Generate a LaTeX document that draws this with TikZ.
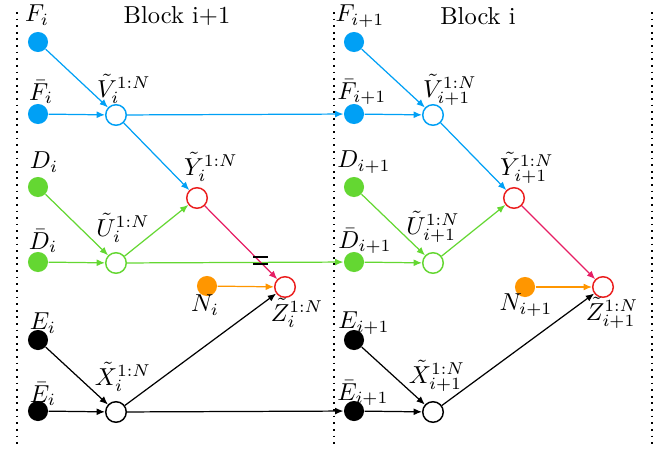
\documentclass[tikz,border=0pt]{standalone}
\usetikzlibrary{arrows.meta}
\definecolor{cF}{RGB}{0,160,245}
\definecolor{cD}{RGB}{100,215,50}
\definecolor{cR}{RGB}{235,30,30}
\definecolor{cM}{RGB}{230,30,100}
\definecolor{cN}{RGB}{255,150,0}
\begin{document}
\begin{tikzpicture}[x=0.408pt,y=-0.408pt,
  src/.style={circle,minimum size=8.2pt,inner sep=0pt},
  hid/.style={circle,draw,fill=white,minimum size=8.4pt,inner sep=0pt,line width=0.6pt},
  arr/.style={-{Latex[length=3.4pt,width=2.8pt]},line width=0.5pt},
  lab/.style={inner sep=0pt},
  sep/.style={dotted,line width=0.7pt}]
\useasboundingbox (0,0) rectangle (662,449);
% separators
\draw[sep] (17,12) -- (17,445);
\draw[sep] (334,12) -- (334,445);
\draw[sep] (652,12) -- (652,445);
\node[lab] (B1) at (177,16) {Block i+1};
\node[lab] (B2) at (478,16) {Block i};
% left block nodes
\node[src,fill=cF] (F1) at (38,42) {};
\node[src,fill=cF] (Fb1) at (38,114) {};
\node[hid,draw=cF] (V1) at (116,115) {};
\node[src,fill=cD] (D1) at (38,187) {};
\node[src,fill=cD] (Db1) at (38,262) {};
\node[hid,draw=cD] (U1) at (116,263) {};
\node[hid,draw=cR] (Y1) at (197,198) {};
\node[src,fill=cN] (N1) at (207,286) {};
\node[hid,draw=cR] (Z1) at (285,287) {};
\node[src,fill=black] (E1) at (38,340) {};
\node[src,fill=black] (Eb1) at (38,411) {};
\node[hid,draw=black] (X1) at (116,412) {};
% right block nodes
\node[src,fill=cF] (F2) at (354,42) {};
\node[src,fill=cF] (Fb2) at (354,114) {};
\node[hid,draw=cF] (V2) at (433,115) {};
\node[src,fill=cD] (D2) at (354,187) {};
\node[src,fill=cD] (Db2) at (354,262) {};
\node[hid,draw=cD] (U2) at (433,263) {};
\node[hid,draw=cR] (Y2) at (514,198) {};
\node[src,fill=cN] (N2) at (525,287) {};
\node[hid,draw=cR] (Z2) at (603,287) {};
\node[src,fill=black] (E2) at (354,340) {};
\node[src,fill=black] (Eb2) at (354,411) {};
\node[hid,draw=black] (X2) at (433,412) {};
% labels left
\node[lab] (lF1) at (37,15) {$F_i$};
\node[lab] (lFb1) at (41,92) {$\bar{F}_i$};
\node[lab] (lV1) at (124,89) {$\tilde{V}_i^{1:N}$};
\node[lab] (lD1) at (44,162) {$D_i$};
\node[lab] (lDb1) at (43,241) {$\bar{D}_i$};
\node[lab] (lU1) at (123,228) {$\tilde{U}_i^{1:N}$};
\node[lab] (lY1) at (211,167) {$\tilde{Y}_i^{1:N}$};
\node[lab] (lN1) at (205,305) {$N_i$};
\node[lab] (lZ1) at (297,313) {$\tilde{Z}_i^{1:N}$};
\node[lab] (lE1) at (43,323) {$E_i$};
\node[lab] (lEb1) at (43,394) {$\bar{E}_i$};
\node[lab] (lX1) at (123,377) {$\tilde{X}_i^{1:N}$};
% labels right
\node[lab] (lF2) at (360,16) {$F_{i+1}$};
\node[lab] (lFb2) at (362,92) {$\bar{F}_{i+1}$};
\node[lab] (lV2) at (450,90) {$\tilde{V}_{i+1}^{1:N}$};
\node[lab] (lD2) at (364,162) {$D_{i+1}$};
\node[lab] (lDb2) at (365,241) {$\bar{D}_{i+1}$};
\node[lab] (lU2) at (433,227) {$\tilde{U}_{i+1}^{1:N}$};
\node[lab] (lY2) at (527,168) {$\tilde{Y}_{i+1}^{1:N}$};
\node[lab] (lN2) at (526,305) {$N_{i+1}$};
\node[lab] (lZ2) at (612,313) {$\tilde{Z}_{i+1}^{1:N}$};
\node[lab] (lE2) at (364,323) {$E_{i+1}$};
\node[lab] (lEb2) at (363,393) {$\bar{E}_{i+1}$};
\node[lab] (lX2) at (437,376) {$\tilde{X}_{i+1}^{1:N}$};
% edges left
\draw[arr,cF] (F1) -- (V1);
\draw[arr,cF] (Fb1) -- (V1);
\draw[arr,cF] (V1) -- (Y1);
\draw[arr,cF] (V1) -- (Fb2);
\draw[arr,cD] (D1) -- (U1);
\draw[arr,cD] (Db1) -- (U1);
\draw[arr,cD] (U1) -- (Y1);
\draw[arr,cD] (U1) -- (Db2);
\draw[arr,cM] (Y1) -- (Z1);
\draw[arr,cN] (N1) -- (Z1);
\draw[arr,black] (X1) -- (Z1);
\draw[arr,black] (E1) -- (X1);
\draw[arr,black] (Eb1) -- (X1);
\draw[arr,black] (X1) -- (Eb2);
% crossing mark
\draw[line width=0.7pt] (253,257) -- (268,257);
\draw[line width=0.7pt] (253,264) -- (268,264);
% edges right
\draw[arr,cF] (F2) -- (V2);
\draw[arr,cF] (Fb2) -- (V2);
\draw[arr,cF] (V2) -- (Y2);
\draw[arr,cD] (D2) -- (U2);
\draw[arr,cD] (Db2) -- (U2);
\draw[arr,cD] (U2) -- (Y2);
\draw[arr,cM] (Y2) -- (Z2);
\draw[arr,cN] (N2) -- (Z2);
\draw[arr,black] (X2) -- (Z2);
\draw[arr,black] (E2) -- (X2);
\draw[arr,black] (Eb2) -- (X2);
\end{tikzpicture}
\end{document}
